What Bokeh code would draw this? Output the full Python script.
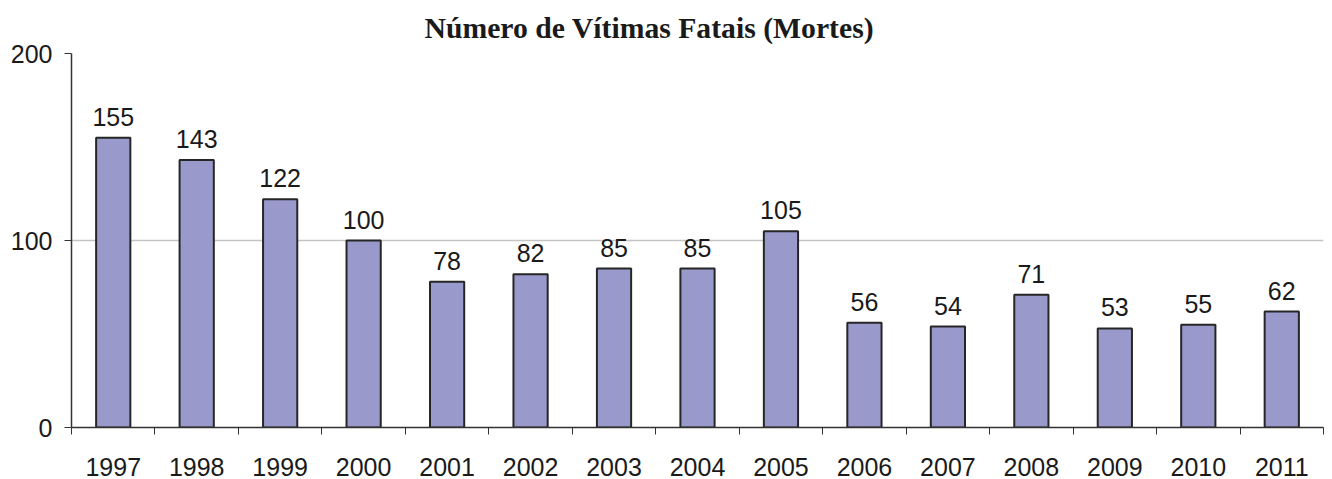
from bokeh.plotting import figure
from bokeh.models import ColumnDataSource, LabelSet, FixedTicker, Range1d
from bokeh.core.properties import value
from bokeh.embed import file_html
from bokeh.resources import INLINE

years = ["1997", "1998", "1999", "2000", "2001", "2002", "2003", "2004",
         "2005", "2006", "2007", "2008", "2009", "2010", "2011"]
deaths = [155, 143, 122, 100, 78, 82, 85, 85, 105, 56, 54, 71, 53, 55, 62]
y_ticks = [0, 100, 200]
title_text = "Número de Vítimas Fatais (Mortes)"

n = len(years)
centers = [i + 0.5 for i in range(n)]
source = ColumnDataSource(dict(x=centers, top=deaths, label=[str(v) for v in deaths]))

p = figure(width=1324, height=478, output_backend="svg", toolbar_location=None,
           x_range=Range1d(0, n), y_range=Range1d(0, 200),
           min_border_left=71, min_border_right=1, min_border_top=46, min_border_bottom=50)

p.title.text = title_text
p.title.text_font = "Liberation Serif"
p.title.text_font_style = "bold"
p.title.text_font_size = "29.7px"
p.title.text_color = "#1a1a1a"
p.title.align = "left"
p.title.offset = 353
p.title.standoff = 19

p.vbar(x="x", top="top", width=0.41, bottom=0, source=source,
       fill_color="#9999cc", line_color="#262626", line_width=2)

labels = LabelSet(x="x", y="top", text="label", source=source,
                  text_align="center", text_baseline="bottom", y_offset=12,
                  text_font_size=value("25px"), text_font=value("Liberation Sans"),
                  text_color="#1a1a1a")
p.add_layout(labels)

p.outline_line_color = None
p.background_fill_color = "white"
p.border_fill_color = "white"

# x axis: labels at centers, ticks at category boundaries
p.xaxis.ticker = FixedTicker(ticks=centers, minor_ticks=list(range(n + 1)))
p.xaxis.major_label_overrides = {c: y for c, y in zip(centers, years)}
p.xaxis.major_tick_out = 0
p.xaxis.major_tick_in = 0
p.xaxis.minor_tick_out = 7
p.xaxis.minor_tick_in = 0
p.xaxis.minor_tick_line_color = "#333333"
p.xaxis.axis_line_color = "#333333"
p.xaxis.axis_line_width = 1.5
p.xaxis.major_label_standoff = 23
p.xaxis.major_label_text_font = "Liberation Sans"
p.xaxis.major_label_text_font_size = "25px"
p.xaxis.major_label_text_color = "#1a1a1a"
p.xgrid.grid_line_color = None

# y axis
p.yaxis.ticker = FixedTicker(ticks=y_ticks)
p.yaxis.minor_tick_line_color = None
p.yaxis.major_tick_out = 7
p.yaxis.major_tick_in = 0
p.yaxis.major_tick_line_color = "#333333"
p.yaxis.axis_line_color = "#333333"
p.yaxis.axis_line_width = 1.5
p.yaxis.major_label_standoff = 12
p.yaxis.major_label_text_font = "Liberation Sans"
p.yaxis.major_label_text_font_size = "25px"
p.yaxis.major_label_text_color = "#1a1a1a"
p.ygrid.grid_line_color = "#c4c4c4"
p.ygrid.grid_line_width = 1.5

open("out.html", "w").write(file_html(p, INLINE))
